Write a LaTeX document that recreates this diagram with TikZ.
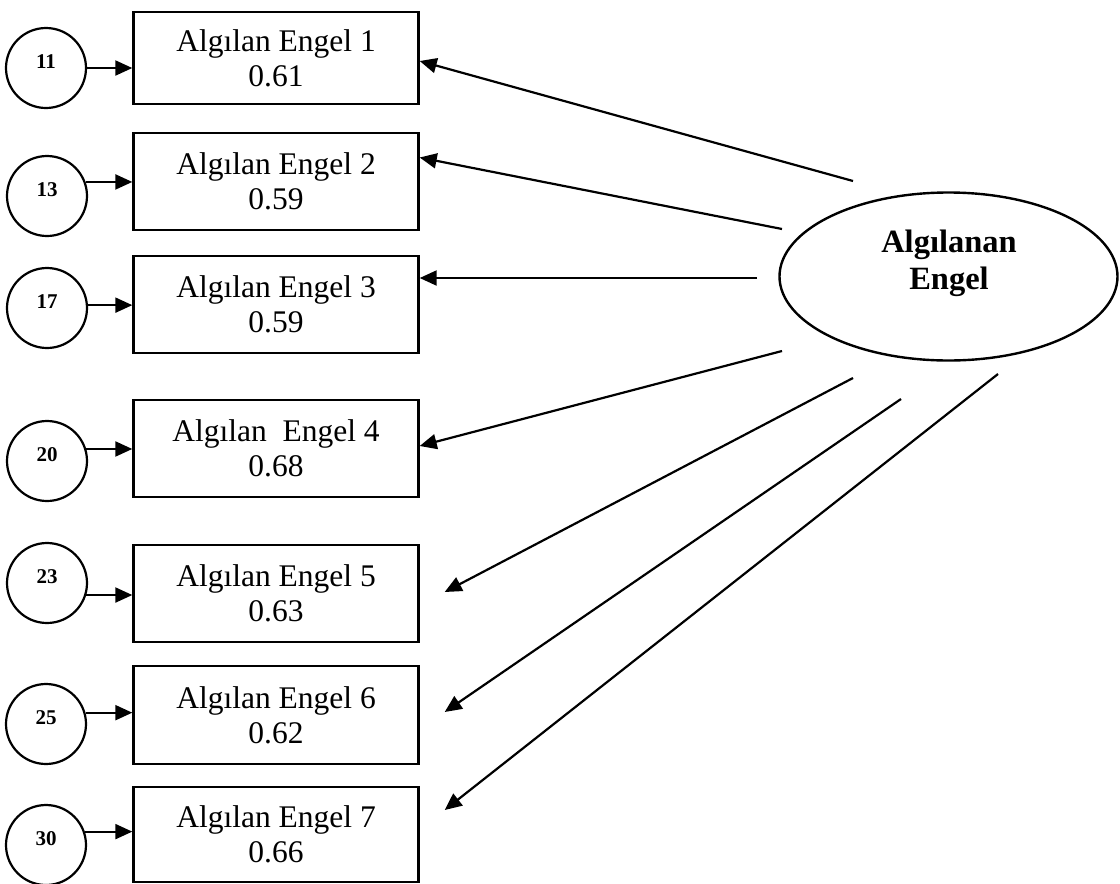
\documentclass[tikz,border=0pt]{standalone}
\usepackage{fontspec}
\setmainfont{Liberation Serif}
\usetikzlibrary{shapes.geometric,arrows.meta}
\begin{document}
\begin{tikzpicture}[x=1pt,y=-1pt,
  boxnode/.style={draw,line width=2.4pt,minimum width=285pt,minimum height=97pt,inner sep=0pt,align=center,font=\fontsize{31.5}{35}\selectfont},
  errnode/.style={draw,circle,line width=2.2pt,minimum size=80pt,inner sep=0pt,font=\fontsize{21}{24}\selectfont\bfseries,text height=10pt,text depth=9pt},
  latnode/.style={draw,ellipse,line width=2.4pt,minimum width=338pt,minimum height=168pt,inner sep=0pt},
  latlabel/.style={align=center,inner sep=0pt,font=\fontsize{32.5}{37}\selectfont\bfseries},
  arr/.style={line width=2.2pt,-{Triangle[length=17pt,width=15pt]}}
]
\useasboundingbox (0,0) rectangle (1120,884);

% indicator boxes
\node[boxnode,minimum height=92pt] (b1) at (276,58)    {Algılan Engel 1\\0.61};
\node[boxnode] (b2) at (276,181.5) {Algılan Engel 2\\0.59};
\node[boxnode] (b3) at (276,304.5) {Algılan Engel 3\\0.59};
\node[boxnode] (b4) at (276,448.5) {Algılan\ \ Engel 4\\0.68};
\node[boxnode] (b5) at (276,593.5) {Algılan Engel 5\\0.63};
\node[boxnode,minimum height=98pt] (b6) at (276,715)   {Algılan Engel 6\\0.62};
\node[boxnode,minimum height=95pt] (b7) at (276,834.5) {Algılan Engel 7\\0.66};

% error circles
\node[errnode] (c1) at (46,68)  {11};
\node[errnode] (c2) at (47,196) {13};
\node[errnode] (c3) at (47,308) {17};
\node[errnode] (c4) at (47,461) {20};
\node[errnode] (c5) at (47,583) {23};
\node[errnode] (c6) at (46,724) {25};
\node[errnode] (c7) at (46,845) {30};

% latent variable
\node[latnode] (L) at (948.5,276.5) {};
\node[latlabel] (Lt) at (949,263) {Algılanan\\Engel};

% error arrows
\draw[arr] (c1.0)    -- (c1.0 -| b1.west);
\draw[arr] (c2.20.5) -- (c2.20.5 -| b2.west);
\draw[arr] (c3.4.3)  -- (c3.4.3 -| b3.west);
\draw[arr] (c4.17.5) -- (c4.17.5 -| b4.west);
\draw[arr] (c5.-17.5) -- (c5.-17.5 -| b5.west);
\draw[arr] (c6.16) -- (c6.16 -| b6.west);
\draw[arr] (c7.19)   -- (c7.19 -| b7.west);

% loading arrows (free start ends near the ellipse)
\coordinate (s1) at (853,181);
\coordinate (s2) at (782,229);
\coordinate (s3) at (757,278);
\coordinate (s4) at (782,351);
\coordinate (s5) at (853,378);
\coordinate (s6) at (901,399);
\coordinate (s7) at (998,374);

\draw[arr] (s1) -- ([yshift=-3pt]b1.east);
\draw[arr] (s2) -- ([yshift=24pt]b2.east);
\draw[arr] (s3) -- ([yshift=26.5pt]b3.east);
\draw[arr] (s4) -- ([yshift=2.5pt]b4.east);
\draw[arr] (s5) -- ([xshift=25pt,yshift=1.5pt]b5.east);
\draw[arr] (s6) -- ([xshift=25pt,yshift=3pt]b6.east);
\draw[arr] (s7) -- ([xshift=25pt,yshift=24.5pt]b7.east);
\end{tikzpicture}
\end{document}
